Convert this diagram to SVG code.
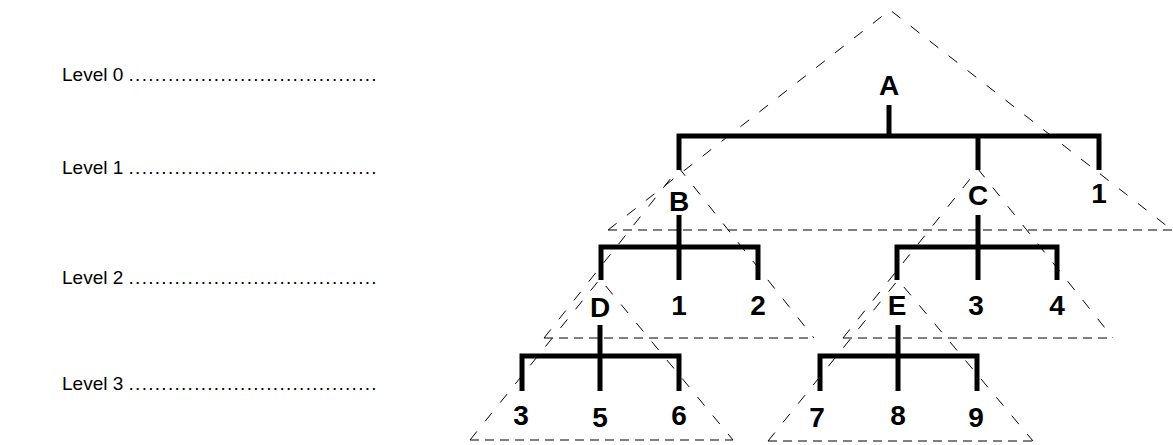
<svg xmlns="http://www.w3.org/2000/svg" width="1173" height="445" viewBox="0 0 1173 445">
<style>
.lvl{font-family:"Liberation Sans",Arial,sans-serif;font-size:19px;fill:#000}
.lab{font-family:"Liberation Sans",Arial,sans-serif;font-size:28px;font-weight:bold;fill:#000;text-anchor:middle}
.side{fill:none;stroke:#000;stroke-width:1;stroke-dasharray:11 13}
.base{fill:none;stroke:#000;stroke-width:1;stroke-dasharray:9 6}
.edge{fill:none;stroke:#000;stroke-width:5;stroke-linejoin:miter;stroke-linecap:butt}
</style>
<rect width="1173" height="445" fill="#fff"/>
<g id="levels">
<text class="lvl" x="62" y="81">Level 0 <tspan textLength="248" lengthAdjust="spacing">......................................</tspan></text>
<text class="lvl" x="62" y="174">Level 1 <tspan textLength="248" lengthAdjust="spacing">......................................</tspan></text>
<text class="lvl" x="62" y="284">Level 2 <tspan textLength="248" lengthAdjust="spacing">......................................</tspan></text>
<text class="lvl" x="62" y="390">Level 3 <tspan textLength="248" lengthAdjust="spacing">......................................</tspan></text>
</g>
<g id="subtrees">
<path class="side" d="M608,230 L890,10 L1172,230"/><path class="base" d="M608,230 H1172"/>
<path class="side" d="M544,338 L679,168 L814,338"/><path class="base" d="M544,338 H814"/>
<path class="side" d="M843,338 L978,169 L1113,338"/><path class="base" d="M843,338 H1113"/>
<path class="side" d="M470,440 L600,279 L733,440"/><path class="base" d="M470,440 H733"/>
<path class="side" d="M768,441 L898,280 L1033,441"/><path class="base" d="M768,441 H1033"/>
</g>
<g id="connectors">
<path class="edge" d="M889,105 V136 M679,170 V136 H1099 V170 M978,136 V170"/>
<path class="edge" d="M679,215 V247 M601,280 V247 H758 V280 M679,247 V280"/>
<path class="edge" d="M978,215 V247 M897,280 V247 H1057 V280 M978,247 V280"/>
<path class="edge" d="M600,325 V356 M522,391 V356 H679 V391 M600,356 V391"/>
<path class="edge" d="M898,325 V356 M820,391 V356 H977 V391 M898,356 V391"/>
</g>
<g id="node-A"><text class="lab" x="889" y="95">A</text></g>
<g id="node-B"><text class="lab" x="679" y="211">B</text></g>
<g id="node-C"><text class="lab" x="978" y="205">C</text></g>
<g id="node-1a"><text class="lab" x="1099" y="203">1</text></g>
<g id="node-D"><text class="lab" x="600" y="317">D</text></g>
<g id="node-1b"><text class="lab" x="679" y="315">1</text></g>
<g id="node-2"><text class="lab" x="758" y="315">2</text></g>
<g id="node-E"><text class="lab" x="897" y="315">E</text></g>
<g id="node-3a"><text class="lab" x="976" y="315">3</text></g>
<g id="node-4"><text class="lab" x="1057" y="315">4</text></g>
<g id="node-3b"><text class="lab" x="521" y="425">3</text></g>
<g id="node-5"><text class="lab" x="600" y="427">5</text></g>
<g id="node-6"><text class="lab" x="679" y="425">6</text></g>
<g id="node-7"><text class="lab" x="817" y="427">7</text></g>
<g id="node-8"><text class="lab" x="898" y="425">8</text></g>
<g id="node-9"><text class="lab" x="976" y="427">9</text></g>
</svg>
